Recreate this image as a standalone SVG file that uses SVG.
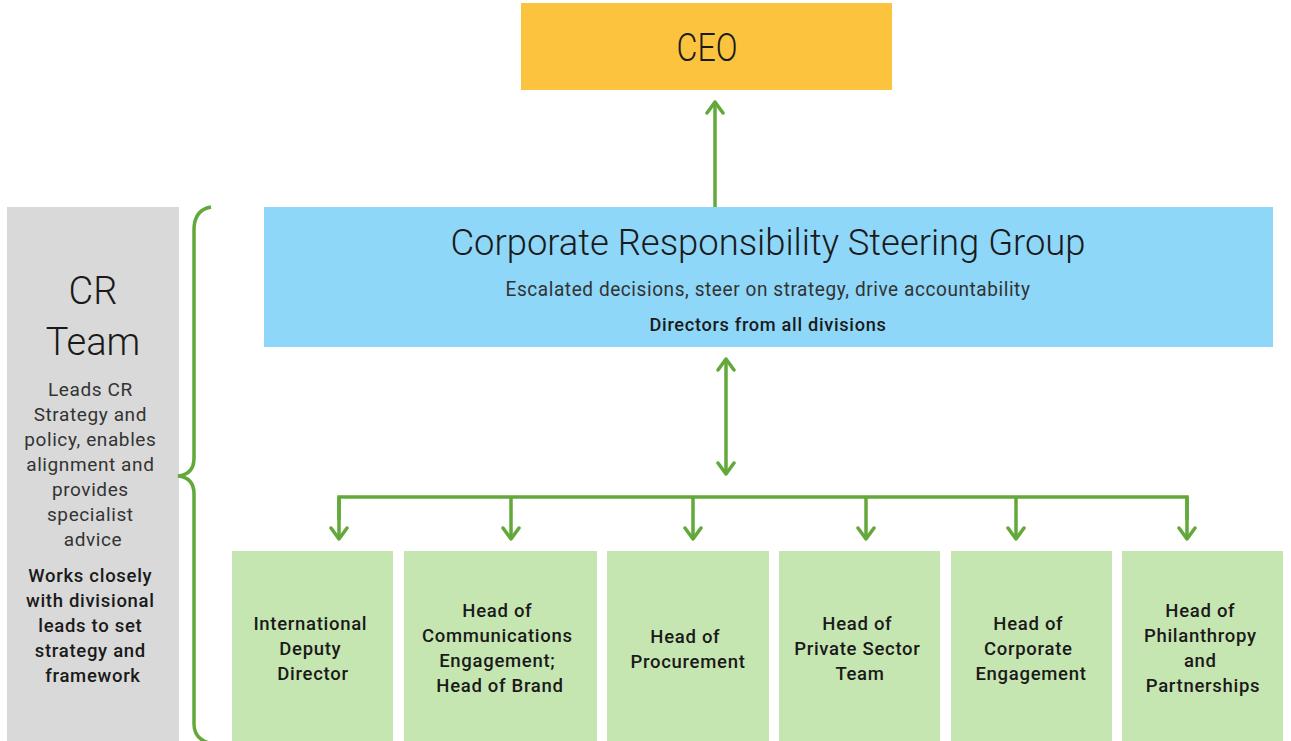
<svg xmlns="http://www.w3.org/2000/svg" width="1291" height="741" viewBox="0 0 1291 741">
  <style>
    .t { font-family: Roboto, "Liberation Sans", sans-serif; fill: #1a1a1a; text-anchor: middle; }
    .light { font-weight: 300; }
    .body { font-weight: 400; fill: #333333; letter-spacing: 0.6px; }
    .strong { font-weight: 500; letter-spacing: 0.7px; }
    .conn { stroke: #62A83A; stroke-width: 3.5; fill: none; }
    .leaf { fill: #C6E6B1; }
  </style>
  <defs>
    <marker id="head" markerUnits="userSpaceOnUse" viewBox="-14 -10 16 20" refX="0" refY="0" markerWidth="16" markerHeight="20" orient="auto-start-reverse">
      <path d="M-11,-8 L0,0 L-11,8" fill="none" stroke="#62A83A" stroke-width="3.5" stroke-linecap="round" stroke-linejoin="round"/>
    </marker>
  </defs>

  <rect width="1291" height="741" fill="#ffffff"/>

  <!-- CR team side panel -->
  <g id="cr-team">
    <rect x="7" y="207" width="172" height="540" fill="#D9D9D9"/>
    <text class="t light" x="93" y="304" font-size="38">CR</text>
    <text class="t light" x="93" y="355" font-size="38">Team</text>
    <text class="t body" font-size="19">
      <tspan x="93" y="396">Leads CR</tspan>
      <tspan x="93" y="421">Strategy and</tspan>
      <tspan x="93" y="446">policy, enables</tspan>
      <tspan x="93" y="471">alignment and</tspan>
      <tspan x="93" y="496">provides</tspan>
      <tspan x="93" y="521">specialist</tspan>
      <tspan x="93" y="546">advice</tspan>
    </text>
    <text class="t strong" font-size="18.5">
      <tspan x="93" y="582">Works closely</tspan>
      <tspan x="93" y="607">with divisional</tspan>
      <tspan x="93" y="632">leads to set</tspan>
      <tspan x="93" y="657">strategy and</tspan>
      <tspan x="93" y="682">framework</tspan>
    </text>
  </g>

  <!-- brace grouping the team with the steering structure -->
  <path id="brace" class="conn" stroke-width="3" d="M211,207 C199,209 194,217 194,230 L194,458 C194,469 188,475 178,476 C188,477 194,483 194,494 L194,724 C194,734 199,740 209,743"/>

  <g id="ceo">
    <rect x="521" y="3" width="371" height="87" fill="#FCC43E"/>
    <text class="t light" x="707" y="61" font-size="38" textLength="61" lengthAdjust="spacingAndGlyphs">CEO</text>
  </g>

  <g id="steering-group">
    <rect x="264" y="207" width="1009" height="140" fill="#8ED7F8"/>
    <text class="t light" x="768" y="255" font-size="37" textLength="635" lengthAdjust="spacingAndGlyphs">Corporate Responsibility Steering Group</text>
    <text class="t body" x="768" y="296" font-size="20" textLength="525" lengthAdjust="spacingAndGlyphs">Escalated decisions, steer on strategy, drive accountability</text>
    <text class="t strong" x="768" y="331" font-size="18.5" textLength="237" lengthAdjust="spacingAndGlyphs">Directors from all divisions</text>
  </g>

  <g id="international-deputy-director">
    <rect class="leaf" x="232" y="551" width="161" height="200"/>
    <text class="t strong" font-size="18.5">
      <tspan x="313" y="630">International</tspan>
      <tspan x="313" y="655">Deputy</tspan>
      <tspan x="313" y="680">Director</tspan>
    </text>
  </g>

  <g id="head-of-communications">
    <rect class="leaf" x="404" y="551" width="193" height="200"/>
    <text class="t strong" font-size="18.5">
      <tspan x="500" y="617">Head of</tspan>
      <tspan x="500" y="642">Communications</tspan>
      <tspan x="500" y="667">Engagement;</tspan>
      <tspan x="500" y="692">Head of Brand</tspan>
    </text>
  </g>

  <g id="head-of-procurement">
    <rect class="leaf" x="607" y="551" width="162" height="200"/>
    <text class="t strong" font-size="18.5">
      <tspan x="688" y="643">Head of</tspan>
      <tspan x="688" y="668">Procurement</tspan>
    </text>
  </g>

  <g id="head-of-private-sector">
    <rect class="leaf" x="779" y="551" width="161" height="200"/>
    <text class="t strong" font-size="18.5">
      <tspan x="860" y="630">Head of</tspan>
      <tspan x="860" y="655">Private Sector</tspan>
      <tspan x="860" y="680">Team</tspan>
    </text>
  </g>

  <g id="head-of-corporate-engagement">
    <rect class="leaf" x="951" y="551" width="161" height="200"/>
    <text class="t strong" font-size="18.5">
      <tspan x="1031" y="630">Head of</tspan>
      <tspan x="1031" y="655">Corporate</tspan>
      <tspan x="1031" y="680">Engagement</tspan>
    </text>
  </g>

  <g id="head-of-philanthropy">
    <rect class="leaf" x="1122" y="551" width="161" height="200"/>
    <text class="t strong" font-size="18.5">
      <tspan x="1203" y="617">Head of</tspan>
      <tspan x="1203" y="642">Philanthropy</tspan>
      <tspan x="1203" y="667">and</tspan>
      <tspan x="1203" y="692">Partnerships</tspan>
    </text>
  </g>

  <g id="connectors">
    <line class="conn" x1="715" y1="207" x2="715" y2="102" marker-end="url(#head)"/>
    <line class="conn" x1="726" y1="359" x2="726" y2="474" marker-start="url(#head)" marker-end="url(#head)"/>
    <polyline class="conn" points="339,520 339,497 1187,497 1187,520"/>
    <line class="conn" x1="339" y1="497" x2="339" y2="539" marker-end="url(#head)"/>
    <line class="conn" x1="511" y1="497" x2="511" y2="539" marker-end="url(#head)"/>
    <line class="conn" x1="693" y1="497" x2="693" y2="539" marker-end="url(#head)"/>
    <line class="conn" x1="866" y1="497" x2="866" y2="539" marker-end="url(#head)"/>
    <line class="conn" x1="1016" y1="497" x2="1016" y2="539" marker-end="url(#head)"/>
    <line class="conn" x1="1187" y1="497" x2="1187" y2="539" marker-end="url(#head)"/>
  </g>
</svg>
